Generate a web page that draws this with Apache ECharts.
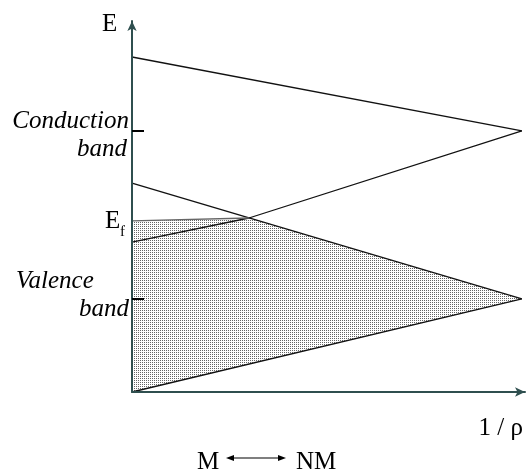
<!DOCTYPE html>
<html>
<head>
<meta charset="utf-8">
<script src="https://cdn.jsdelivr.net/npm/echarts@6/dist/echarts.min.js"></script>
<style>html,body{margin:0;padding:0;background:#fff}#c{width:526px;height:472px}</style>
</head>
<body>
<div id="c"></div>
<script>
// x: 1/rho (arbitrary units), E: energy (arbitrary units)
const condTopX = [0, 10];
const condTopE = [9.03, 7.04];
const condBotX = [0, 3, 10];
const condBotE = [4.04, 4.69, 7.04];
const valTopX = [0, 10];
const valTopE = [5.63, 2.51];
const valBotX = [0, 10];
const valBotE = [0.0, 2.51];
const fermiX = [0, 3];
const fermiE = [4.61, 4.69];
const bandTicks = [7.04, 2.51];

const zip = (xs, ys) => xs.map((x, i) => [x, ys[i]]);

// shaded (filled) region: Fermi level -> valence upper edge -> valence lower edge
const fillPts = zip(fermiX, fermiE)
  .concat([[valTopX[valTopX.length - 1], valTopE[valTopE.length - 1]]])
  .concat(zip(valBotX, valBotE).reverse());

const pc = document.createElement('canvas');
pc.width = 2; pc.height = 2;
const pctx = pc.getContext('2d');
pctx.fillStyle = '#ffffff'; pctx.fillRect(0, 0, 2, 2);
pctx.fillStyle = '#666666'; pctx.fillRect(0, 0, 1, 1);
const pattern = { image: pc, repeat: 'repeat' };

const axisColor = '#2f4f4f';
const lineStyle = { color: '#111', width: 1.3 };
const serif = 'Liberation Serif, Times New Roman, serif';
const fs = '25px ';

const chart = echarts.init(document.getElementById('c'), null, { renderer: 'canvas' });

function lineSeries(xs, ys, color) {
  return {
    type: 'line', data: zip(xs, ys), symbol: 'none', silent: true, z: 3,
    lineStyle: { color: color || lineStyle.color, width: lineStyle.width }
  };
}

chart.setOption({
  animation: false,
  grid: { left: 132, top: 21, right: 1, bottom: 80 },
  xAxis: {
    type: 'value', min: 0, max: 10.08, z: 10,
    axisLine: { show: true, symbol: ['none', 'arrow'], symbolSize: [7, 10], lineStyle: { color: axisColor, width: 2 } },
    axisTick: { show: false }, axisLabel: { show: false }, splitLine: { show: false }
  },
  yAxis: {
    type: 'value', min: 0, max: 10, z: 10,
    axisLine: { show: true, symbol: ['none', 'arrow'], symbolSize: [7, 10], lineStyle: { color: axisColor, width: 2 } },
    axisTick: { show: true, inside: true, length: 12, customValues: bandTicks, lineStyle: { color: '#000', width: 2 } },
    axisLabel: { show: false }, splitLine: { show: false }
  },
  series: [
    {
      type: 'custom', silent: true, z: 1,
      data: [[0, 0]],
      renderItem: function (params, api) {
        return {
          type: 'polygon',
          shape: { points: fillPts.map(p => api.coord(p)) },
          style: { fill: pattern, stroke: null }
        };
      }
    },
    lineSeries(condTopX, condTopE),
    lineSeries(condBotX, condBotE),
    lineSeries(valTopX, valTopE),
    lineSeries(valBotX, valBotE),
    lineSeries(fermiX, fermiE, '#666')
  ],
  graphic: [
    { type: 'text', x: 102, y: 24, style: { text: 'E', font: fs + serif, fill: '#000', align: 'left', verticalAlign: 'middle' } },
    { type: 'text', x: 129, y: 121, style: { text: 'Conduction', font: 'italic ' + fs + serif, fill: '#000', align: 'right', verticalAlign: 'middle' } },
    { type: 'text', x: 127, y: 149, style: { text: 'band', font: 'italic ' + fs + serif, fill: '#000', align: 'right', verticalAlign: 'middle' } },
    { type: 'text', x: 105, y: 221, style: { text: 'E', font: fs + serif, fill: '#000', align: 'left', verticalAlign: 'middle' } },
    { type: 'text', x: 120, y: 232, style: { text: 'f', font: '15px ' + serif, fill: '#000', align: 'left', verticalAlign: 'middle' } },
    { type: 'text', x: 16, y: 281, style: { text: 'Valence', font: 'italic ' + fs + serif, fill: '#000', align: 'left', verticalAlign: 'middle' } },
    { type: 'text', x: 129, y: 309, style: { text: 'band', font: 'italic ' + fs + serif, fill: '#000', align: 'right', verticalAlign: 'middle' } },
    { type: 'text', x: 523, y: 428, style: { text: '1 / ρ', font: fs + serif, fill: '#000', align: 'right', verticalAlign: 'middle' } },
    { type: 'text', x: 197, y: 462, style: { text: 'M', font: fs + serif, fill: '#000', align: 'left', verticalAlign: 'middle' } },
    { type: 'text', x: 296, y: 462, style: { text: 'NM', font: fs + serif, fill: '#000', align: 'left', verticalAlign: 'middle' } },
    { type: 'line', shape: { x1: 229, y1: 458, x2: 283, y2: 458 }, style: { stroke: '#000', lineWidth: 1.2 } },
    { type: 'polygon', shape: { points: [[226, 458], [234, 455], [234, 461]] }, style: { fill: '#000' } },
    { type: 'polygon', shape: { points: [[286, 458], [278, 455], [278, 461]] }, style: { fill: '#000' } }
  ]
});
</script>
</body>
</html>
